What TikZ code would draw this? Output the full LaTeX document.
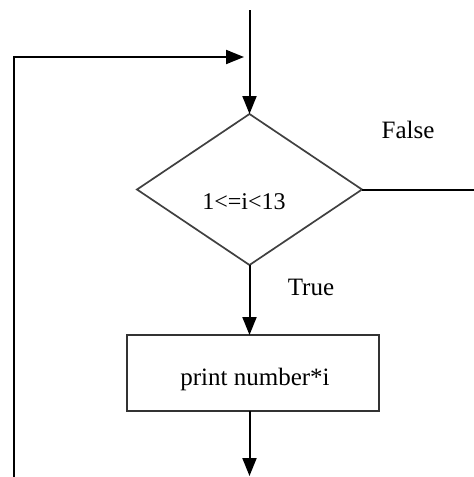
\documentclass[tikz,border=0pt]{standalone}
\usepackage{fontspec}
\setmainfont{Liberation Serif}
\usetikzlibrary{shapes.geometric,arrows.meta}
\tikzset{
  flow/.style={line width=2pt, draw=black},
  arr/.style={flow, -{Triangle[length=18pt,width=14pt]}},
  decision/.style={diamond, draw=black!75, line width=1.7pt, minimum width=225pt, minimum height=151pt, inner sep=0pt, outer sep=0pt},
  procbox/.style={rectangle, draw=black!80, line width=2pt, minimum width=252pt, minimum height=76pt, inner sep=0pt, outer sep=0pt},
  dtxt/.style={font=\fontsize{24}{28}\selectfont, inner sep=0pt},
  btxt/.style={font=\fontsize{25}{29}\selectfont, inner sep=0pt},
  lbl/.style={font=\fontsize{25}{29}\selectfont, inner sep=0pt},
}
\begin{document}
\begin{tikzpicture}[x=1pt,y=-1pt]
\useasboundingbox[fill=white] (0,0) rectangle (474,477);
\node[decision] (d) at (249.5,189.5) {};
\node[dtxt] (dt) at (244,202) {1<=i<13};
\node[procbox] (box) at (253,373) {};
\node[btxt] (bt) at (255,379) {print number*i};
\node[lbl] (f) at (408,130) {False};
\node[lbl] (t) at (311,287) {True};
\coordinate (top) at (249.5,10);
\coordinate (r) at (476,189.5);
\coordinate (bot) at (249.5,476);
\coordinate (lb) at (14,478);
\coordinate (lt) at (14,57);
\coordinate (lj) at (244,57);
\draw[arr] (top) -- (d.north);
\draw[arr] (d.south) -- (d.south |- box.north);
\draw[arr] (d.south |- box.south) -- (bot);
\draw[flow] (d.east) -- (r);
\draw[arr] (lb) -- (lt) -- (lj);
\end{tikzpicture}
\end{document}
